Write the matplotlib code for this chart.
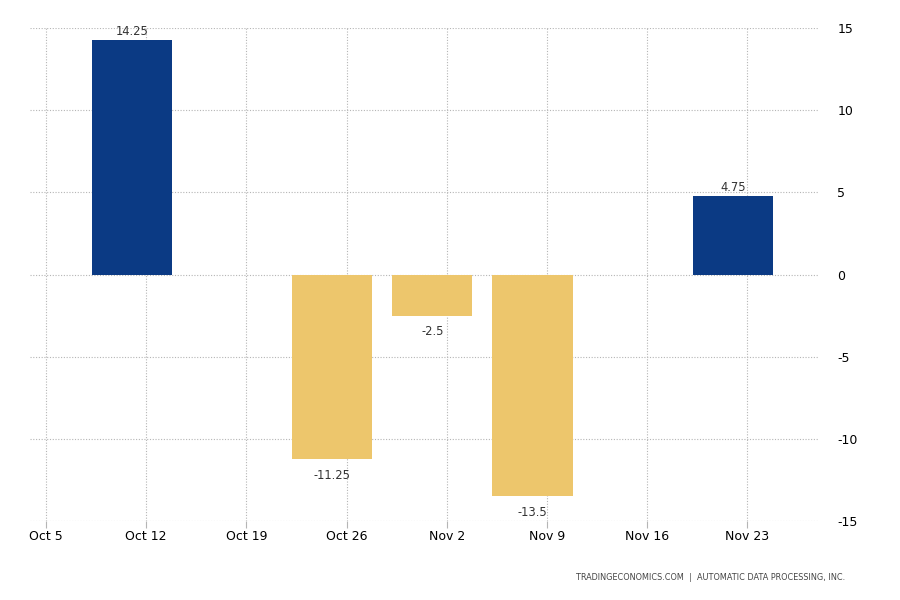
import numpy as np
import pandas as pd
import matplotlib
matplotlib.use("Agg")
import matplotlib.pyplot as plt

# --- Données ---
dates  = pd.to_datetime(["2020-10-11", "2020-10-25", "2020-11-01", "2020-11-08", "2020-11-22"])
values = [14.25, -11.25, -2.5, -13.5, 4.75]
tick_dates  = pd.date_range("2020-10-05", "2020-11-23", freq="7D")
tick_labels = ["Oct 5", "Oct 12", "Oct 19", "Oct 26", "Nov 2", "Nov 9", "Nov 16", "Nov 23"]
y_ticks = [-15, -10, -5, 0, 5, 10, 15]

NAVY = "#0b3a84"
GOLD = "#edc66c"

plt.rcParams["font.family"] = ["DejaVu Sans"]
plt.rcParams["axes.unicode_minus"] = False

fig = plt.figure(figsize=(9, 6), dpi=100)
ax = fig.add_axes([30 / 900, 79 / 600, 788 / 900, 493 / 600])

colors = [NAVY if v >= 0 else GOLD for v in values]
ax.bar(dates, values, width=5.6, color=colors, zorder=3)

for d, v in zip(dates, values):
    lbl = f"{v:g}"
    if v >= 0:
        ax.annotate(lbl, (d, v), xytext=(0, 2), textcoords="offset points",
                    ha="center", va="bottom", fontsize=8.3, color="#333333", zorder=4)
    else:
        ax.annotate(lbl, (d, v), xytext=(0, -7), textcoords="offset points",
                    ha="center", va="top", fontsize=8.3, color="#333333", zorder=4)

ax.set_xlim(pd.Timestamp("2020-10-03 21:00"), pd.Timestamp("2020-11-27 23:00"))
ax.set_ylim(-15, 15)
ax.set_xticks(tick_dates)
ax.set_xticklabels(tick_labels)
ax.set_yticks(y_ticks)
ax.yaxis.tick_right()

for s in ax.spines.values():
    s.set_visible(False)

ax.grid(True, color="#b5b5b5", ls=(0, (1, 1.5)), lw=0.8, zorder=0)
ax.tick_params(axis="x", length=5, color="#b5b5b5", labelsize=9, pad=1.5, labelcolor="black")
ax.tick_params(axis="y", length=0, labelsize=9, pad=14, labelcolor="black")

fig.text(845 / 900, 1 - 577 / 600, "TRADINGECONOMICS.COM  |  AUTOMATIC DATA PROCESSING, INC.",
         ha="right", va="center", fontsize=5.9, color="#444444")

fig.savefig("out.png", dpi=100)
